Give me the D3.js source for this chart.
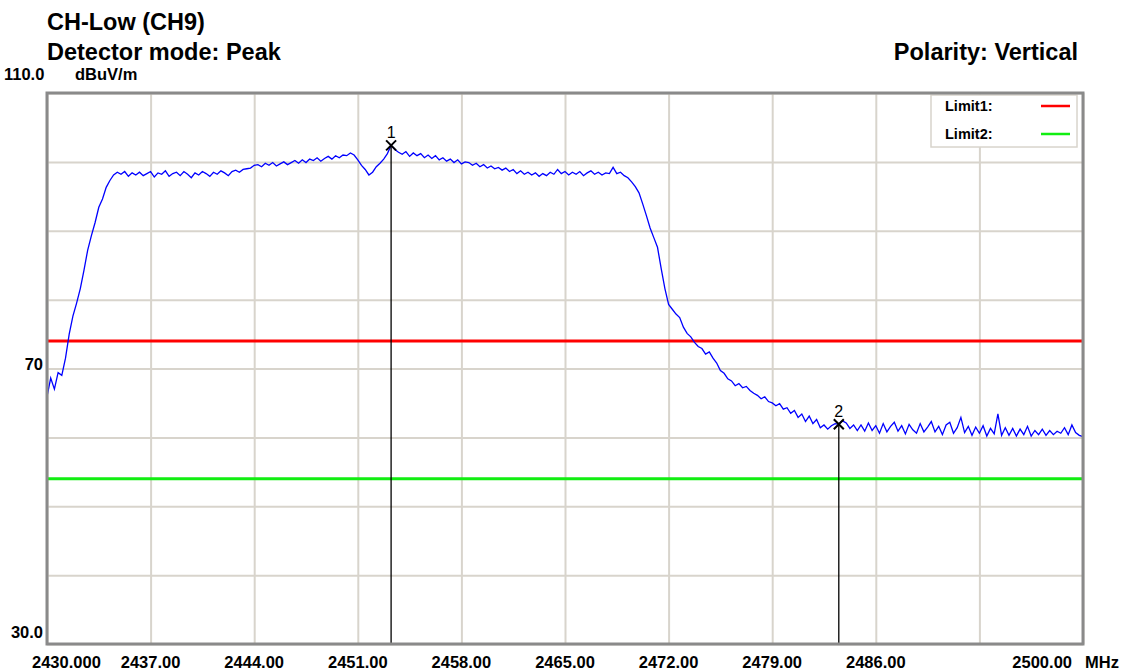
<!DOCTYPE html>
<html>
<head>
<meta charset="utf-8">
<script src="https://cdn.jsdelivr.net/npm/d3@7"></script>
<style>
  html, body { margin: 0; padding: 0; background: #ffffff; }
  svg { display: block; font-family: "Liberation Sans", Arial, sans-serif; }
</style>
</head>
<body>
<svg id="chart" width="1124" height="671"></svg>
<script>
// Sweep settings (MHz) and measured level in dBuV/m, one reading every 0.25 MHz
const sweepStart = 2430;
const sweepStop = 2500;
const sweepStep = 0.25;
const levels = [
  65.9, 68.6, 67.0, 69.4, 69.0, 71.5, 75.0, 77.6, 79.5, 81.6,
  84.3, 87.2, 89.3, 91.2, 93.4, 94.6, 96.3, 97.3, 98.1, 98.5,
  98.2, 98.6, 97.9, 98.4, 98.1, 98.5, 98.0, 98.3, 98.6, 97.8,
  98.4, 98.2, 98.7, 97.9, 98.3, 98.5, 98.0, 98.6, 98.2, 97.7,
  98.4, 98.1, 98.6, 98.3, 97.9, 98.5, 98.2, 98.7, 98.4, 98.0,
  98.6, 98.8, 98.5, 98.9, 99.0,
  99.1, 99.5, 99.6,
  99.3, 99.8, 99.5, 99.9, 99.4, 99.7, 100.0, 99.6, 99.9, 100.2, 99.8,
  100.3, 99.9, 100.4, 100.2, 100.6, 100.1, 100.5, 100.8, 100.4, 100.9, 100.6,
  101.0, 100.9, 101.3, 101.0, 100.3, 99.5, 98.9, 98.1, 98.5, 99.3,
  99.8, 100.4, 101.2, 102.4, 101.8, 101.4,
  101.1, 101.5, 100.8, 101.3, 100.9, 101.2, 100.6, 101.0,
  100.5, 100.9, 100.3, 100.6, 100.1, 100.4, 99.9, 100.3, 99.7, 100.0,
  99.9, 99.5, 99.8, 99.3, 99.6, 99.1, 99.4, 99.0, 99.2,
  98.8, 99.1, 98.6, 98.9, 98.3, 98.7, 98.2, 98.5, 98.1,
  98.4, 97.9, 98.3, 98.0, 98.5, 98.2, 98.9, 98.3, 98.6, 98.1,
  98.5, 98.2, 98.6, 98.0, 98.4, 98.7, 98.2, 98.5, 98.1, 98.4, 98.3, 99.2,
  98.3, 98.5, 98.0, 97.7, 97.1, 96.4, 95.5, 93.9, 92.2, 90.4,
  89.0, 87.6, 84.5, 81.6, 79.3, 78.6, 77.9, 77.4, 76.0, 75.1,
  74.6, 73.8, 73.2, 72.9, 72.1, 72.4, 71.5, 70.8, 69.7, 69.3,
  68.5, 68.2, 67.5, 67.8, 67.2, 67.4, 66.8, 66.4, 66.1, 65.6,
  65.9, 65.2, 65.0, 64.6, 64.9, 64.1, 64.3, 63.5, 63.9, 62.9,
  63.4, 62.3, 63.1, 62.0, 62.6, 61.4, 61.8, 61.2, 61.7, 62.0,
  61.9, 62.4, 62.1, 61.3, 61.8, 61.0,
  61.8, 60.9, 62.1, 61.0, 61.7, 60.6, 62.0, 60.8, 61.6, 62.2,
  60.9, 61.7, 60.5, 61.9, 61.1, 60.6, 62.0, 60.8, 61.5, 62.3,
  60.8, 61.6, 60.4, 61.8, 62.2, 60.6, 61.4, 62.9, 60.7, 61.6,
  60.3, 61.5, 60.6, 61.7, 60.2, 61.3, 60.5, 63.4, 60.3, 61.4,
  60.3, 61.3, 60.2, 61.2, 60.4, 61.6, 60.2, 61.0, 60.4, 61.2,
  60.3, 61.0, 60.4, 60.9, 60.6, 61.4, 60.4, 61.8, 60.7, 60.3, 60.1
];

// Limit lines
const limitNames = ["Limit1:", "Limit2:"];
const limitValues = [74, 54];
const limitColors = ["#ff0000", "#11ee11"];

// Markers (frequency MHz, level dBuV/m)
const markerIds = ["1", "2"];
const markerFreqs = [2453.25, 2483.5];
const markerLevels = [102.4, 61.9];

// Axis ticks and labels
const xTickValues = [2430, 2437, 2444, 2451, 2458, 2465, 2472, 2479, 2486, 2493, 2500];
const xTickLabels = ["2430.000", "2437.00", "2444.00", "2451.00", "2458.00", "2465.00", "2472.00", "2479.00", "2486.00", "", "2500.00"];
const yTickValues = [30, 40, 50, 60, 70, 80, 90, 100, 110];
const yLabelValues = [110, 70, 30];
const yLabelTexts = ["110.0", "70", "30.0"];

// Header text
const titleLines = ["CH-Low (CH9)", "Detector mode: Peak"];
const polarityText = "Polarity: Vertical";
const yUnit = "dBuV/m";
const xUnit = "MHz";

(function draw() {
  const svg = d3.select("#chart");
  const plotLeft = 47, plotRight = 1083, plotTop = 93, plotBottom = 644;

  const x = d3.scaleLinear().domain([sweepStart, sweepStop]).range([plotLeft, plotRight]);
  const y = d3.scaleLinear().domain([30, 110]).range([plotBottom, plotTop]);

  const trace = levels.map((v, i) => ({ f: sweepStart + i * sweepStep, v }));

  // Header
  svg.append("text").attr("x", 47).attr("y", 30)
    .attr("font-size", 23.5).attr("font-weight", "bold").text(titleLines[0]);
  svg.append("text").attr("x", 47).attr("y", 60)
    .attr("font-size", 23.5).attr("font-weight", "bold").text(titleLines[1]);
  svg.append("text").attr("x", 1078).attr("y", 60).attr("text-anchor", "end")
    .attr("font-size", 23.5).attr("font-weight", "bold").text(polarityText);

  // Plot background
  svg.append("rect").attr("x", plotLeft).attr("y", plotTop)
    .attr("width", plotRight - plotLeft).attr("height", plotBottom - plotTop).attr("fill", "#ffffff");

  // Grid via axes
  const grid = svg.append("g").attr("class", "grid");
  grid.append("g").attr("transform", `translate(0,${plotBottom})`)
    .call(d3.axisBottom(x).tickValues(xTickValues).tickSize(-(plotBottom - plotTop)).tickFormat(""))
    .call(g => g.select(".domain").remove())
    .call(g => g.selectAll("line").attr("stroke", "#d8d4cc").attr("stroke-width", 2));
  grid.append("g").attr("transform", `translate(${plotLeft},0)`)
    .call(d3.axisLeft(y).tickValues(yTickValues).tickSize(-(plotRight - plotLeft)).tickFormat(""))
    .call(g => g.select(".domain").remove())
    .call(g => g.selectAll("line").attr("stroke", "#d8d4cc").attr("stroke-width", 2));

  // Limit lines
  svg.append("g").selectAll("line").data(limitValues).join("line")
    .attr("x1", plotLeft).attr("x2", plotRight)
    .attr("y1", d => y(d)).attr("y2", d => y(d))
    .attr("stroke", (d, i) => limitColors[i]).attr("stroke-width", 3);

  // Trace
  const line = d3.line().x(d => x(d.f)).y(d => y(d.v));
  svg.append("path").datum(trace)
    .attr("d", line).attr("fill", "none")
    .attr("stroke", "#0000ff").attr("stroke-width", 1.3).attr("stroke-linejoin", "miter");

  // Markers
  const markers = markerIds.map((id, i) => ({ id, f: markerFreqs[i], v: markerLevels[i] }));
  const mg = svg.append("g").selectAll("g").data(markers).join("g");
  mg.append("line")
    .attr("x1", d => x(d.f)).attr("x2", d => x(d.f))
    .attr("y1", d => y(d.v)).attr("y2", plotBottom)
    .attr("stroke", "#000").attr("stroke-width", 1.3);
  mg.append("path")
    .attr("d", d => {
      const cx = x(d.f), cy = y(d.v), s = 5;
      return `M${cx - s},${cy - s}L${cx + s},${cy + s}M${cx - s},${cy + s}L${cx + s},${cy - s}`;
    })
    .attr("stroke", "#000").attr("stroke-width", 2).attr("fill", "none");
  mg.append("text")
    .attr("x", d => x(d.f)).attr("y", d => y(d.v) - 7)
    .attr("text-anchor", "middle").attr("font-size", 16)
    .text(d => d.id);

  // Legend
  const lg = svg.append("g");
  lg.append("rect").attr("x", 931).attr("y", 95).attr("width", 146).attr("height", 52)
    .attr("fill", "#ffffff").attr("stroke", "#d8d4cc").attr("stroke-width", 1.5);
  limitNames.forEach((name, i) => {
    lg.append("text").attr("x", 945).attr("y", 111 + i * 28)
      .attr("font-size", 14.5).attr("font-weight", "bold").text(name);
    lg.append("line").attr("x1", 1041).attr("x2", 1070)
      .attr("y1", 106 + i * 28).attr("y2", 106 + i * 28)
      .attr("stroke", limitColors[i]).attr("stroke-width", 2.5);
  });

  // Frame
  svg.append("rect").attr("x", plotLeft).attr("y", plotTop)
    .attr("width", plotRight - plotLeft).attr("height", plotBottom - plotTop)
    .attr("fill", "none").attr("stroke", "#8a8a8a").attr("stroke-width", 3);

  // Y labels
  yLabelValues.forEach((v, i) => {
    const t = svg.append("text").attr("font-size", 16.5).attr("font-weight", "bold")
      .text(yLabelTexts[i]);
    if (i === 0) {
      t.attr("x", 4).attr("y", y(v) - 13);
    } else {
      t.attr("x", 43).attr("y", y(v) + (i === 1 ? 1.5 : -6)).attr("text-anchor", "end");
    }
  });
  svg.append("text").attr("x", 75).attr("y", y(110) - 13)
    .attr("font-size", 16.5).attr("font-weight", "bold").text(yUnit);

  // X labels
  xTickValues.forEach((v, i) => {
    if (!xTickLabels[i]) return;
    const t = svg.append("text").attr("y", 668).attr("font-size", 16.5).attr("font-weight", "bold")
      .text(xTickLabels[i]);
    if (i === 0) {
      t.attr("x", 32);
    } else if (i === xTickValues.length - 1) {
      t.attr("x", x(v) - 11).attr("text-anchor", "end");
    } else {
      t.attr("x", x(v)).attr("text-anchor", "middle");
    }
  });
  svg.append("text").attr("x", 1085).attr("y", 668)
    .attr("font-size", 16.5).attr("font-weight", "bold").text(xUnit);
})();
</script>
</body>
</html>
